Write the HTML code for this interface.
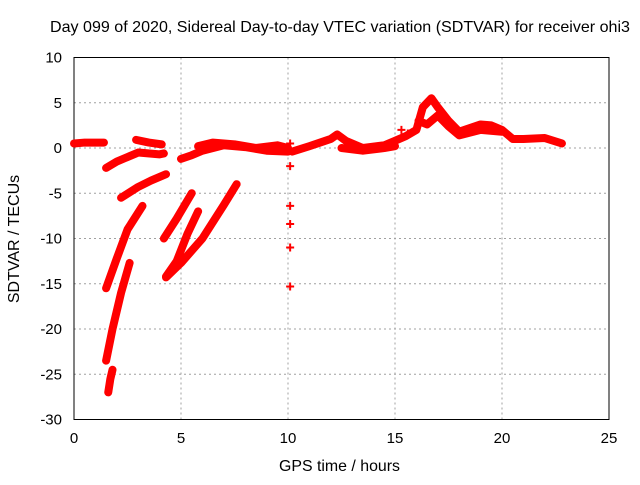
<!DOCTYPE html>
<html><head><meta charset="utf-8"><style>
body{margin:0;background:#fff}
svg text{font-family:"Liberation Sans",sans-serif;font-size:14px;fill:#000}
</style></head><body>
<svg id="chart" width="640" height="480" xmlns="http://www.w3.org/2000/svg">
<rect width="640" height="480" fill="#fff"/>
<g id="grid"></g>
<rect x="74" y="57.5" width="535" height="362" fill="none" stroke="#000" stroke-width="1"/>
<g id="ticks"></g>
<g id="series"></g>
<text x="50" y="32" textLength="580" lengthAdjust="spacingAndGlyphs" style="font-size:16px">Day 099 of 2020, Sidereal Day-to-day VTEC variation (SDTVAR) for receiver ohi3</text>
<text x="279" y="471" textLength="121" lengthAdjust="spacingAndGlyphs" style="font-size:16px">GPS time / hours</text>
<text x="0" y="0" transform="translate(19,239) rotate(-90)" text-anchor="middle" style="font-size:16px">SDTVAR / TECUs</text>
</svg>
<script>
const xTicks=[0,5,10,15,20,25];
const yTicks=[10,5,0,-5,-10,-15,-20,-25,-30];
const seg1=[[0,0.5],[0.5,0.6],[1,0.6],[1.4,0.6]];
const seg2=[[1.5,-2.2],[2,-1.5],[2.5,-1],[3,-0.5],[4,-0.7],[4.2,-0.6]];
const seg3=[[2.9,0.9],[3.5,0.6],[4.1,0.4]];
const seg4=[[2.2,-5.5],[3,-4.3],[3.6,-3.6],[4.3,-2.9]];
const seg5=[[1.5,-15.5],[2,-12.2],[2.5,-9],[3.2,-6.4]];
const seg6=[[1.5,-23.5],[1.8,-20],[2.2,-16],[2.6,-12.7]];
const seg7=[[1.6,-27],[1.7,-25.5],[1.8,-24.5]];
const seg8=[[4.2,-10],[4.8,-7.8],[5.5,-5]];
const seg9=[[4.3,-14.2],[4.8,-12.5],[5.3,-9.5],[5.8,-7]];
const seg10=[[4.3,-14.3],[5,-12.7],[6,-10],[7,-6.3],[7.6,-4]];
const seg11=[[5,-1.2],[5.5,-0.8],[6,-0.3],[7,0.3],[8,0.1],[9,-0.3],[10,-0.4]];
const seg12=[[5.8,0.2],[6.5,0.6],[7.5,0.4],[8.5,0],[9.5,0.3],[10,0]];
const seg13=[[10.2,-0.4],[11,0.2],[11.5,0.6],[12,1],[12.3,1.5],[12.7,0.8],[13.5,0],[14.5,0.3],[15,0.8],[15.5,1.3],[16,2],[16.3,4.5],[16.7,5.5],[17,4.5],[17.5,3],[18,1.8],[18.5,2.2],[19,2.6],[19.5,2.5],[20,2],[20.5,1],[21,1],[22,1.1],[22.8,0.5]];
const seg14=[[12.5,0],[13.5,-0.3],[14.5,0],[15,0.2]];
const seg15=[[16.1,3],[16.5,2.6],[17,3.6],[17.5,2.4],[18,1.4],[19,2],[20,1.8]];
const isolated=[[10.1,-2],[10.1,-6.4],[10.1,-8.4],[10.1,-11],[10.1,-15.3],[10.1,0.5],[15.3,2],[15.6,1.6]];
const segments=[seg1,seg2,seg3,seg4,seg5,seg6,seg7,seg8,seg9,seg10,seg11,seg12,seg13,seg14,seg15];
const NS="http://www.w3.org/2000/svg";
const X=v=>74+v*21.4, Y=v=>148-v*9.05;
function mk(tag,attrs,parent){const e=document.createElementNS(NS,tag);for(const k in attrs)e.setAttribute(k,attrs[k]);parent.appendChild(e);return e;}
const grid=document.getElementById('grid'),ticks=document.getElementById('ticks'),ser=document.getElementById('series');
xTicks.forEach(t=>{
 if(t>0&&t<25){const g=mk('line',{x1:X(t),x2:X(t),y1:57.5,y2:419.5,stroke:'#a0a0a0','stroke-dasharray':'2,3'},grid);
 
 }
 const l=mk('text',{x:X(t),y:443,'text-anchor':'middle',style:'font-size:15px'},ticks);l.textContent=t;
 
 
});
yTicks.forEach(t=>{
 if(t<10&&t>-30){const g=mk('line',{x1:74,x2:609,y1:Y(t),y2:Y(t),stroke:'#a0a0a0','stroke-dasharray':'2,3'},grid);
 
 }
 const l=mk('text',{x:62,y:Y(t)+5,'text-anchor':'end',style:'font-size:15px'},ticks);l.textContent=t;
 
 
});
segments.forEach(s=>{
 const p=mk('polyline',{points:s.map(d=>X(d[0])+','+Y(d[1])).join(' '),fill:'none',stroke:'#f00','stroke-width':8,'stroke-linejoin':'round','stroke-linecap':'round'},ser);
 
 
});
isolated.forEach(d=>{
 const p=mk('path',{d:`M${X(d[0])-4},${Y(d[1])}h8M${X(d[0])},${Y(d[1])-4}v8`,stroke:'#f00','stroke-width':2},ser);
 
 
});
</script>
</body></html>
